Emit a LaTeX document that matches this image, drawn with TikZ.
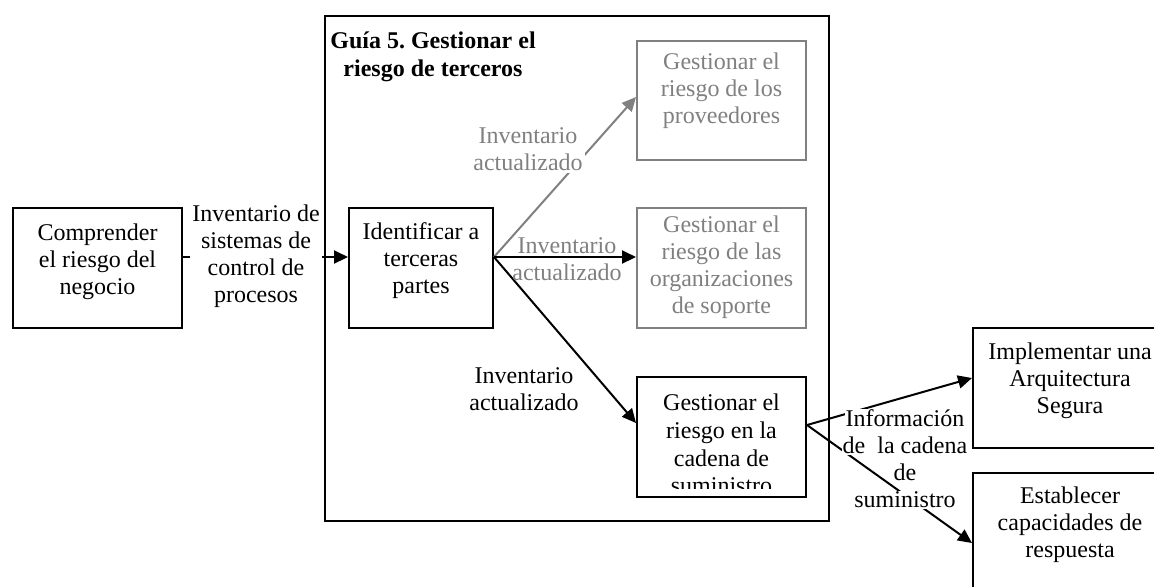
\documentclass[tikz,border=0pt]{standalone}
\usepackage{fontspec}
\setmainfont{Liberation Serif}
\usetikzlibrary{arrows.meta}
\definecolor{softgray}{RGB}{128,128,128}
\newcommand{\whiteline}[1]{{\setlength{\fboxsep}{0.6pt}\colorbox{white}{#1}}}
\frenchspacing

\begin{document}
\begin{tikzpicture}[x=0.5pt, y=-0.5pt, >={Triangle[length=7pt,width=6.5pt]}, line width=1pt,
	box/.style={draw, minimum width=84.5pt, minimum height=60pt, inner sep=0pt},
	txt/.style={align=center, inner sep=1pt, font=\fontsize{12pt}{13.5pt}\selectfont}]
		\useasboundingbox (0,0) rectangle (1154,586);
		
		% Boxes
		\node[box] (comp) at (97.5,268) {};
		\node[box, minimum width=252pt, minimum height=252.5pt] (guia) at (577,268.5) {};
		\node[box, minimum width=72pt] (ident) at (421,268) {};
		\node[box, draw=softgray, minimum height=59.5pt] (prov) at (721.5,100.5) {};
		\node[box, draw=softgray] (sop) at (721.5,268) {};
		\node[box] (cad) at (721.5,437) {};
		\node[box, minimum width=97pt] (impl) at (1070,388) {};
		\node[box, minimum width=97pt] (estab) at (1070,533) {};
		
		% Box texts
		\node[txt] (comp txt) at (97.5,262) {Comprender\\el riesgo del\\negocio};
		\node[txt, font=\fontsize{12pt}{14pt}\selectfont\bfseries] (guia txt) at (433,57) {Guía 5. Gestionar el\\riesgo de terceros};
		\node[txt] (ident txt) at (421,261) {Identificar a\\terceras\\partes};
		\node[txt, text=softgray] (prov txt) at (721.5,91) {Gestionar el\\riesgo de los\\proveedores};
		\node[txt, text=softgray] (sop txt) at (721.5,267) {Gestionar el\\riesgo de las\\organizaciones\\de soporte};
		\begin{scope}
			\clip (cad.north west) rectangle ([yshift=5pt]cad.south east);
			\node[txt, font=\fontsize{12pt}{13.8pt}\selectfont] (cad txt) at (721.5,444) {Gestionar el\\riesgo en la\\cadena de\\suministro};
		\end{scope}
		\node[txt] (impl txt) at (1070,381) {Implementar una\\Arquitectura\\Segura};
		\node[txt] (estab txt) at (1070,525) {Establecer\\capacidades de\\respuesta};
		
		% connections
		\coordinate (iout) at ([yshift=5.5pt]ident.east);
		\coordinate (cout) at ([yshift=6pt]cad.east);
		
		\draw[->] ([yshift=5.5pt]comp.east) -- ([yshift=5.5pt]ident.west);
		\draw[->, softgray] (iout) -- ([yshift=1.75pt]prov.west);
		\draw[->] (iout) -- ([yshift=5.5pt]sop.west);
		\draw[->] (iout) -- ([yshift=7pt]cad.west);
		\draw[->] (cout) -- ([yshift=5pt]impl.west);
		\draw[->] (cout) -- ([yshift=-5pt]estab.west);
		
		% Connector labels
		\node[txt, fill=white] (inv lab) at (256,256) {Inventario de\\sistemas de\\control de\\procesos};
		\node[txt, fill=white, text=softgray] (prov lab) at (528,149) {Inventario\\actualizado};
		\node[txt, text=softgray] (sop lab) at (567,259) {Inventario\\actualizado};
		\node[txt] (cad lab) at (524,389) {Inventario\\actualizado};
		\node[txt] (info lab) at (905,459) {\whiteline{Información}\\\whiteline{de\ \ la cadena}\\\whiteline{de}\\\whiteline{suministro}};
	\end{tikzpicture}
\end{document}
